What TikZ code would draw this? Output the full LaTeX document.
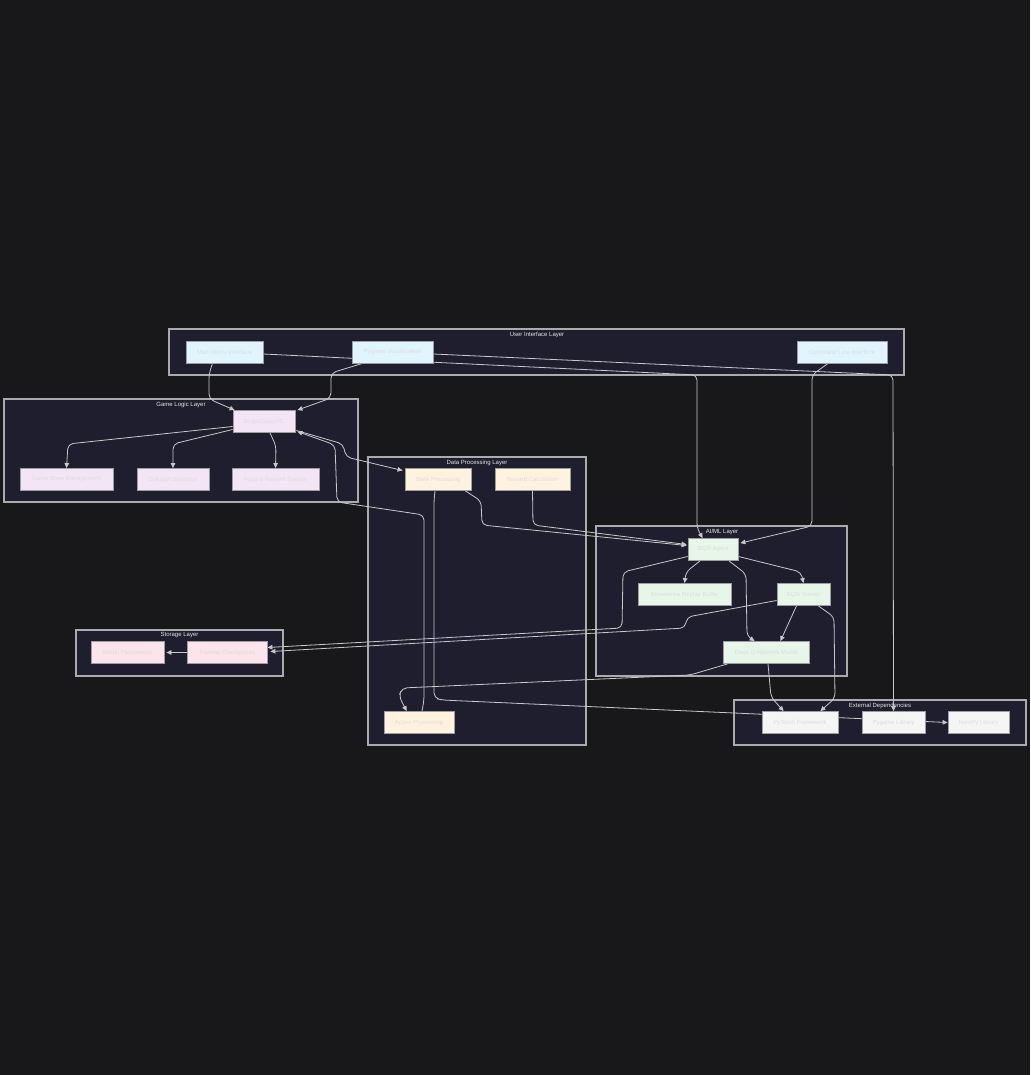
\documentclass[tikz,border=0pt]{standalone}
\usepackage{fontspec}
\setmainfont{Liberation Sans}
\usetikzlibrary{arrows.meta,calc}
\definecolor{bgc}{HTML}{18181B}
\definecolor{clfill}{HTML}{1E1E2E}
\definecolor{clline}{HTML}{ABABAB}
\definecolor{edgec}{HTML}{C8C8C8}
\definecolor{nodeline}{HTML}{9E9E9E}
\definecolor{nodetext}{HTML}{DCDCDC}
\definecolor{uif}{HTML}{E1F5FE}
\definecolor{glf}{HTML}{F3E5F5}
\definecolor{dpf}{HTML}{FFF3E0}
\definecolor{aif}{HTML}{E8F5E9}
\definecolor{stf}{HTML}{FCE4EC}
\definecolor{exf}{HTML}{F5F5F5}
\pgfdeclarelayer{bglayer}
\pgfdeclarelayer{edgelayer}
\pgfsetlayers{bglayer,edgelayer,main}
\tikzset{
  box/.style={draw=nodeline, line width=0.8pt, minimum height=22pt, inner sep=0pt,
    font=\fontsize{6}{7}\selectfont, text=nodetext},
  cluster/.style={draw=clline, line width=1.2pt, fill=clfill},
  clabel/.style={font=\fontsize{6}{7}\selectfont, text=white!90!black, anchor=north, inner sep=0pt},
  edge/.style={draw=edgec, line width=0.8pt, rounded corners=5pt, -{Triangle[length=5pt,width=4.5pt]}},
  plainedge/.style={draw=edgec, line width=0.8pt, rounded corners=5pt}
}
\begin{document}
\begin{tikzpicture}[x=1pt,y=-1pt]
\begin{pgfonlayer}{bglayer}
\fill[bgc] (0,0) rectangle (1030,1075);
\useasboundingbox (0,0) rectangle (1030,1075);
% clusters
\draw[cluster] (169,329) rectangle (904,375);
\draw[cluster] (4,399) rectangle (358,502);
\draw[cluster] (368,457) rectangle (586,745);
\draw[cluster] (596,526) rectangle (847,676);
\draw[cluster] (76,630) rectangle (283,676);
\draw[cluster] (734,700) rectangle (1026,745);
\node[clabel] (lui) at (537,331.5) {User Interface Layer};
\node[clabel] (lgl) at (181,401.5) {Game Logic Layer};
\node[clabel] (ldp) at (477,459.5) {Data Processing Layer};
\node[clabel] (lai) at (722,529) {AI/ML Layer};
\node[clabel] (lst) at (179.5,632.5) {Storage Layer};
\node[clabel] (lex) at (880,702.5) {External Dependencies};
\end{pgfonlayer}

% nodes
\node[box, fill=uif, minimum width=77pt] (mm) at (224.5,352) {Main Menu Interface};
\node[box, fill=uif, minimum width=81pt] (pv) at (392.5,352) {Pygame Visualization};
\node[box, fill=uif, minimum width=90pt] (cli) at (842,352) {Command Line Interface};
\node[box, fill=glf, minimum width=62pt] (sg) at (264,421.5) {SnakeGameRL};
\node[box, fill=glf, minimum width=93pt] (gsm) at (66.5,479.5) {Game State Management};
\node[box, fill=glf, minimum width=72pt] (cd) at (173,479.5) {Collision Detection};
\node[box, fill=glf, minimum width=87pt] (fr) at (275.5,479.5) {Food \& Reward System};
\node[box, fill=dpf, minimum width=66pt] (sp) at (438,479.5) {State Processing};
\node[box, fill=dpf, minimum width=75pt] (rc) at (532.5,479.5) {Reward Calculation};
\node[box, fill=dpf, minimum width=70pt] (ap) at (419,722.5) {Action Processing};
\node[box, fill=aif, minimum width=50pt] (dqa) at (713,549.5) {DQN Agent};
\node[box, fill=aif, minimum width=93pt] (erb) at (684.5,594.5) {Experience Replay Buffer};
\node[box, fill=aif, minimum width=53pt] (dqt) at (803.5,594.5) {DQN Trainer};
\node[box, fill=aif, minimum width=86pt] (dqn) at (766,652.5) {Deep Q-Network Model};
\node[box, fill=stf, minimum width=73pt] (mp) at (127.5,652.5) {Model Persistence};
\node[box, fill=stf, minimum width=80pt] (tc) at (227,652.5) {Training Checkpoints};
\node[box, fill=exf, minimum width=76pt] (pt) at (800,722.5) {PyTorch Framework};
\node[box, fill=exf, minimum width=63pt] (pl) at (893.5,722.5) {Pygame Library};
\node[box, fill=exf, minimum width=61pt] (np) at (978.5,722.5) {NumPy Library};

\begin{pgfonlayer}{edgelayer}
% UI -> game
\draw[edge] ($(mm.south)+(-12,0)$) -- (209,374) -- (209,399) -- ($(sg.north west)+(2,0)$);
\draw[edge] ($(pv.south)+(-30,0)$) -- (331,373) -- (331,398) -- ($(sg.north east)+(2,0)$);
% UI -> AI / external
\draw[edge] ($(mm.east)+(0,2)$) -- (697,375) -- (697,528) -- ($(dqa.north west)+(15,0)$);
\draw[edge] ($(pv.east)+(0,2)$) -- (893,375) -- (pl.north);
\draw[edge] ($(cli.south)+(-14,0)$) -- (812,375) -- (812,526) -- ($(dqa.north east)+(2,5)$);
% game logic
\draw[edge] ($(sg.west)+(0,5)$) -- (68,444) -- (gsm.north);
\draw[edge] ($(sg.west)+(0,8)$) -- (173,444) -- (cd.north);
\draw[edge] ($(sg.south)+(6,0)$) -- (276,446) -- (fr.north);
\draw[edge] ($(sg.east)+(1,9)$) -- (343,444) -- (346,457) -- ($(sp.west)+(-2,-9)$);
\draw[edge] ($(ap.north)+(3,0)$) -- (424,700) -- (424,515) -- (337,502) -- (335,445) -- ($(sg.east)+(2,10)$);
% data processing
\draw[edge] ($(sp.south)+(-3,0)$) -- (434,500) -- (434,698) -- (442,700) -- (np.west);
\draw[edge] ($(sp.south east)+(-6,0)$) -- (481,501) -- (482,525) -- ($(dqa.west)+(-1,-4)$);
\draw[edge] (rc.south) -- (533,525) -- ($(dqa.west)+(-1,-5)$);
% AI/ML
\draw[edge] ($(dqa.south)+(-13,0)$) -- (686,572) -- (erb.north);
\draw[edge] ($(dqa.east)+(0,7)$) -- (801,572) -- (dqt.north);
\draw[edge] ($(dqa.south)+(16,0)$) -- (746,574) -- (747,636) -- ($(dqn.north west)+(32,0)$);
\draw[edge] ($(dqt.south)+(-7,0)$) -- (790,620) -- ($(dqn.north east)+(-29,0)$);
\draw[edge] ($(dqt.south east)+(-12,0)$) -- (834,617) -- (835,698) -- ($(pt.north east)+(-18,0)$);
\draw[edge] ($(dqn.south)+(2,0)$) -- (771,697) -- ($(pt.north west)+(22,0)$);
\draw[edge] ($(dqa.west)+(0,7)$) -- (623,572) -- (622,628) -- ($(tc.east)+(0,-5)$);
\draw[edge] ($(dqt.west)+(0,6)$) -- (687,617) -- (685,628) -- ($(tc.east)+(3,-1)$);
\draw[edge] ($(dqn.south west)+(5,0)$) -- (690,675) -- (402,688) -- (399,696) -- ($(ap.north west)+(23,0)$);
% storage
\draw[edge] (tc.west) -- ($(mp.east)+(2,0)$);
\end{pgfonlayer}
\end{tikzpicture}
\end{document}
